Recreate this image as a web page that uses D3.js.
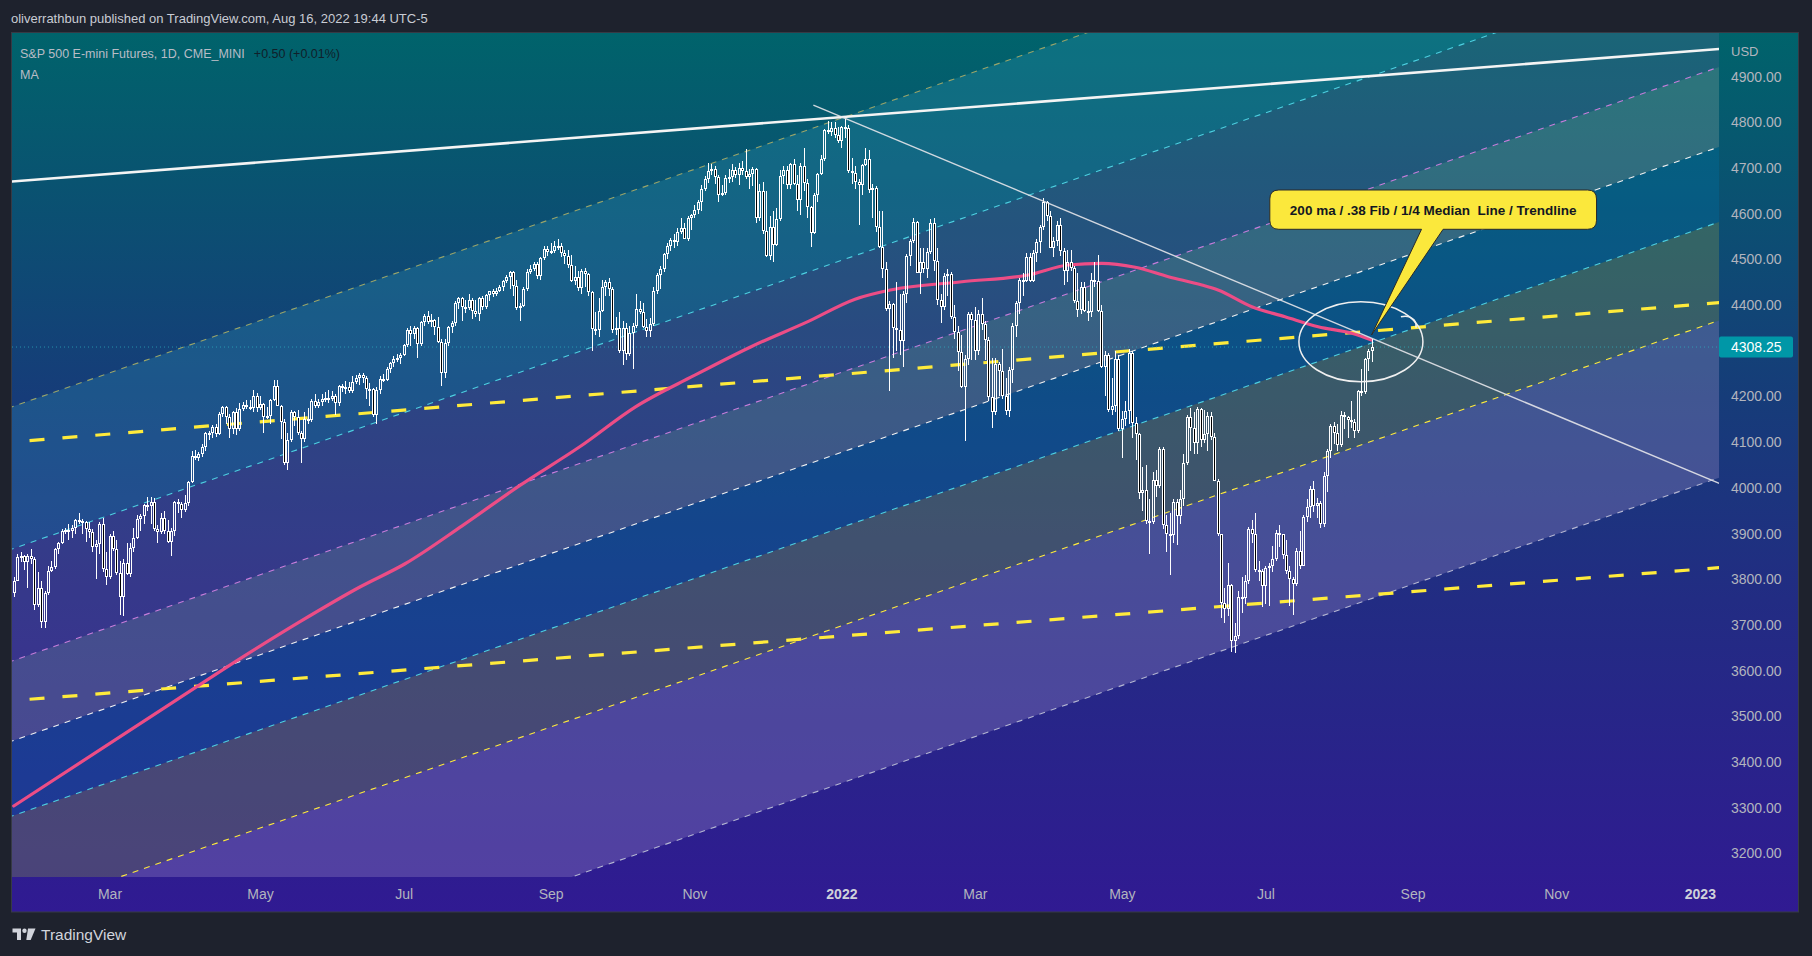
<!DOCTYPE html>
<html><head><meta charset="utf-8">
<script src="https://cdn.jsdelivr.net/npm/d3@7"></script>
<style>
html,body{margin:0;padding:0;background:#1e222d;overflow:hidden;}
svg{display:block;}
text{font-family:"Liberation Sans",Arial,sans-serif;}
</style></head><body>
<svg id="c" width="1812" height="956"></svg>
<script>
// ---------------- DATA ----------------
const firstDay = "2021-01-19";
const lastCalendarDay = "2023-01-31";
const holidays = ["2021-02-15","2021-04-02","2021-05-31","2021-07-05","2021-09-06","2021-11-25","2021-12-24",
  "2022-01-17","2022-02-21","2022-04-15","2022-05-30","2022-06-20","2022-07-04","2022-09-05","2022-11-24","2022-12-26","2023-01-02"];

const opens = [
 3770,3797,3849,3851,3837,3850,3845,3744,3780,
 3707,3770,3818,3827,3866,3880,3906,3907,3906,3912,3930,3928,3926,3910,3903,3870,3878,3921,3822,
 3805,3895,3866,3814,3762,3835,3812,3868,3890,3932,3938,3962,3960,3970,3911,3904,3935,3905,3882,3905,3968,3965,3952,
 3966,4012,4070,4066,4073,4090,4120,4121,4134,4118,4162,4176,4155,4128,4165,4128,4172,4182,4178,4175,4202,
 4174,4183,4156,4158,4192,4224,4180,4144,4055,4105,4166,4155,4120,4108,4150,4148,4190,4180,4188,4194,
 4197,4195,4201,4186,4222,4220,4220,4212,4232,4240,4248,4240,4217,4216,4160,4215,4238,4236,4260,4273,4283,4285,
 4291,4312,4346,4337,4350,4315,4363,4377,4362,4367,4353,4320,4252,4318,4352,4361,4405,4415,4395,4394,4412,
 4388,4380,4416,4395,4422,4430,4425,4430,4440,4453,4462,4473,4442,4394,4399,4435,4473,4480,4490,4463,4503,4522,
 4516,4518,4530,4529,4514,4508,4487,4453,4462,4437,4475,4468,4428,4348,4345,4388,4440,4450,4436,4345,4350,
 4300,4350,4292,4338,4355,4392,4385,4352,4344,4358,4432,4465,4480,4512,4530,4543,4538,4560,4568,4545,4590,
 4598,4608,4625,4655,4675,4693,4697,4680,4642,4645,4678,4680,4696,4684,4700,4694,4680,4688,4698,4590,4650,
 4562,4508,4570,4532,4588,4682,4696,4662,4708,4665,4630,4705,4668,4615,4558,4640,4688,4720,4783,4780,4788,4772,
 4760,4790,4787,4694,4690,4670,4664,4707,4720,4652,4657,4570,4528,4478,4392,4402,4350,4345,4322,4425,
 4508,4540,4582,4470,4494,4478,4516,4580,4497,4412,4395,4464,4468,4375,4342,4298,4220,4282,4380,
 4368,4300,4380,4358,4324,4198,4165,4272,4255,4200,4168,4258,4355,4405,4455,4452,4505,4452,4515,4538,4570,4625,4595,
 4525,4540,4575,4518,4475,4495,4482,4408,4390,4440,4388,4385,4455,4452,4388,4265,4290,4170,4180,4282,
 4128,4150,4168,4295,4142,4118,3988,3995,3928,3925,4018,4005,4085,3918,3898,3897,3970,3938,3975,4055,4155,
 4130,4098,4172,4105,4118,4158,4112,4016,3898,3748,3734,3788,3664,3675,3762,3758,3795,3910,3898,3820,3818,
 3785,3825,3830,3845,3902,3898,3852,3818,3800,3790,3862,3830,3936,3958,3998,3960,3967,3920,4025,4080,
 4135,4120,4093,4160,4155,4148,4145,4125,4212,4210,4282,4300];
const highs = [
 3805,3855,3860,3853,3855,3866,3848,3815,3795,
 3775,3830,3840,3868,3882,3910,3913,3920,3918,3932,3945,3932,3928,3925,3910,3885,3925,3935,3860,
 3900,3905,3885,3840,3845,3880,3880,3912,3940,3942,3965,3980,3980,3978,3918,3945,3950,3930,3912,3972,3975,3968,3985,
 4015,4080,4082,4078,4095,4123,4125,4138,4140,4165,4180,4180,4162,4168,4175,4185,4188,4192,4192,4215,4208,
 4200,4186,4178,4195,4236,4235,4182,4150,4120,4170,4168,4170,4125,4165,4175,4195,4205,4195,4205,4210,
 4215,4212,4205,4226,4228,4233,4232,4245,4246,4252,4252,4245,4230,4218,4220,4245,4250,4265,4276,4288,4292,4295,
 4315,4350,4355,4355,4352,4365,4380,4388,4380,4370,4375,4325,4325,4355,4365,4408,4418,4418,4412,4425,4415,
 4412,4418,4420,4425,4432,4435,4438,4445,4455,4465,4475,4475,4455,4405,4440,4478,4488,4495,4495,4505,4530,4530,
 4535,4540,4545,4535,4520,4520,4510,4485,4475,4480,4482,4470,4430,4385,4415,4455,4455,4460,4440,4375,4385,
 4365,4360,4355,4360,4425,4410,4405,4370,4372,4440,4470,4485,4515,4535,4547,4555,4568,4590,4580,4595,4600,
 4620,4630,4662,4682,4712,4710,4705,4685,4662,4685,4698,4710,4702,4712,4715,4742,4698,4702,4700,4665,4670,
 4650,4595,4605,4612,4695,4705,4705,4712,4720,4685,4712,4745,4675,4618,4645,4690,4728,4786,4802,4800,4800,4790,
 4793,4808,4795,4722,4705,4675,4710,4745,4740,4665,4660,4605,4605,4495,4410,4405,4450,4425,4430,4512,
 4545,4590,4585,4525,4525,4525,4588,4590,4525,4425,4470,4480,4472,4400,4355,4335,4290,4385,4385,
 4395,4390,4415,4365,4330,4285,4285,4275,4305,4240,4265,4360,4408,4460,4470,4515,4515,4520,4545,4575,4635,4628,4605,
 4550,4585,4590,4525,4520,4520,4485,4470,4450,4450,4410,4470,4495,4510,4400,4300,4295,4240,4300,4290,
 4168,4190,4305,4300,4155,4120,4045,4050,3975,4035,4040,4090,4090,3940,3945,3975,3975,3995,4075,4160,4175,
 4165,4178,4175,4170,4165,4165,4120,4020,3900,3780,3835,3790,3705,3775,3805,3810,3915,3930,3945,3840,3822,
 3830,3835,3872,3908,3918,3900,3885,3830,3805,3868,3905,3940,3975,4005,4015,3978,3972,4035,4085,4140,
 4145,4140,4168,4165,4158,4190,4150,4215,4260,4285,4305,4325];
const lows = [
 3762,3795,3838,3820,3780,3834,3733,3740,3694,
 3694,3765,3815,3822,3855,3878,3898,3885,3890,3898,3920,3900,3882,3890,3860,3800,3855,3815,3788,
 3800,3862,3810,3722,3720,3810,3805,3860,3888,3905,3920,3950,3920,3905,3880,3900,3900,3880,3850,3895,3945,3935,3948,
 3960,4010,4060,4058,4068,4080,4105,4110,4112,4115,4155,4140,4110,4118,4115,4125,4168,4172,4170,4165,4166,
 4170,4120,4150,4140,4190,4180,4108,4050,4040,4100,4136,4115,4055,4100,4140,4145,4175,4175,4180,4188,
 4185,4190,4160,4180,4210,4205,4208,4208,4228,4225,4230,4195,4180,4155,4140,4205,4232,4234,4252,4265,4275,4272,
 4288,4308,4310,4325,4285,4310,4355,4358,4352,4335,4318,4222,4240,4310,4340,4355,4392,4365,4382,4390,4370,
 4375,4365,4390,4392,4410,4418,4420,4428,4430,4448,4435,4420,4390,4365,4395,4430,4468,4475,4458,4455,4498,4508,
 4512,4515,4520,4505,4490,4482,4450,4445,4430,4425,4440,4420,4300,4335,4330,4385,4420,4420,4340,4335,4295,
 4270,4280,4288,4260,4350,4380,4350,4330,4330,4355,4425,4435,4472,4502,4518,4525,4530,4555,4545,4540,4565,
 4590,4600,4605,4650,4668,4685,4665,4625,4638,4640,4668,4670,4678,4662,4685,4675,4655,4660,4580,4585,4555,
 4505,4498,4495,4530,4585,4665,4655,4655,4662,4605,4598,4650,4590,4528,4555,4625,4685,4715,4775,4770,4765,4755,
 4745,4765,4690,4665,4655,4575,4640,4705,4645,4590,4560,4525,4460,4388,4212,4285,4300,4290,4265,4405,
 4485,4535,4470,4425,4470,4460,4512,4475,4400,4360,4390,4420,4370,4325,4255,4218,4102,4270,4280,
 4280,4290,4345,4280,4190,4130,4160,4200,4195,4160,4155,4230,4330,4380,4420,4450,4450,4450,4495,4515,4565,4585,4525,
 4505,4530,4508,4445,4450,4475,4405,4375,4380,4385,4365,4375,4440,4385,4262,4200,4165,4160,4165,4125,
 4065,4135,4140,4110,4060,3975,3950,3920,3855,3920,3980,4000,3910,3860,3810,3880,3875,3920,3960,4050,4080,
 4075,4075,4090,4098,4080,4105,4015,3895,3715,3705,3720,3640,3639,3670,3725,3745,3790,3880,3815,3795,3740,
 3745,3742,3815,3840,3870,3845,3812,3742,3722,3785,3822,3828,3925,3935,3948,3935,3912,3915,3990,4065,
 4095,4080,4090,4128,4110,4130,4110,4120,4200,4205,4255,4275];
const closes = [
 3797,3849,3851,3837,3850,3845,3744,3780,3707,
 3770,3818,3827,3866,3880,3906,3907,3906,3912,3930,3928,3926,3910,3903,3870,3878,3921,3822,3805,
 3895,3866,3814,3762,3835,3812,3868,3890,3932,3938,3962,3960,3970,3911,3904,3935,3905,3882,3905,3968,3965,3952,3966,
 4012,4070,4066,4073,4090,4120,4121,4134,4118,4162,4176,4155,4128,4165,4128,4172,4182,4178,4175,4202,4174,
 4183,4156,4158,4192,4224,4180,4144,4055,4105,4166,4155,4120,4108,4150,4148,4190,4180,4188,4194,4197,
 4195,4201,4186,4222,4220,4220,4212,4232,4240,4248,4240,4217,4216,4160,4215,4238,4236,4260,4273,4283,4285,4291,
 4312,4346,4337,4350,4315,4363,4377,4362,4367,4353,4320,4252,4318,4352,4361,4405,4415,4395,4394,4412,4388,
 4380,4416,4395,4422,4430,4425,4430,4440,4453,4462,4473,4442,4394,4399,4435,4473,4480,4490,4463,4503,4522,4516,
 4518,4530,4529,4514,4508,4487,4453,4462,4437,4475,4468,4428,4348,4345,4388,4440,4450,4436,4345,4350,4300,
 4350,4292,4338,4355,4392,4385,4352,4344,4358,4432,4465,4480,4512,4530,4543,4538,4560,4568,4545,4590,4598,
 4608,4625,4655,4675,4693,4697,4680,4642,4645,4678,4680,4696,4684,4700,4694,4680,4688,4698,4590,4650,4562,
 4508,4570,4532,4588,4682,4696,4662,4708,4665,4630,4705,4668,4615,4558,4640,4688,4720,4783,4780,4788,4772,4760,
 4790,4787,4694,4690,4670,4664,4707,4720,4652,4657,4570,4528,4478,4392,4402,4350,4345,4322,4425,4508,
 4540,4582,4470,4494,4478,4516,4580,4497,4412,4395,4464,4468,4375,4342,4298,4220,4282,4380,4368,
 4300,4380,4358,4324,4198,4165,4272,4255,4200,4168,4258,4355,4405,4455,4452,4505,4452,4515,4538,4570,4625,4595,4525,
 4540,4575,4518,4475,4495,4482,4408,4390,4440,4388,4385,4455,4452,4388,4265,4290,4170,4180,4282,4128,
 4150,4168,4295,4142,4118,3988,3995,3928,3925,4018,4005,4085,3918,3898,3897,3970,3938,3975,4055,4155,4130,
 4098,4172,4105,4118,4158,4112,4016,3898,3748,3734,3788,3664,3675,3762,3758,3795,3910,3898,3820,3818,3785,
 3825,3830,3845,3902,3898,3852,3818,3800,3790,3862,3830,3936,3958,3998,3960,3967,3920,4025,4080,4135,
 4120,4093,4160,4155,4148,4145,4125,4212,4210,4282,4300,4308.25];

// 200-day moving average: bar index, value
const maIndex = [0,47.6,67,83.7,101.2,114.3,131.1,148,165.6,181.8,198.7,215.6,232.5,246,256.3,277.2,296.6,308.3,318.1,327.9,337.6,347.4,352.1,362,371.7,381.4,391.2,397];
const maValue = [3303.6,3535.7,3629.8,3707,3782.9,3833.3,3916.9,4005.3,4090.5,4177.4,4245,4309,4365,4413,4433,4451.2,4465.9,4487.8,4491.5,4482.8,4462.2,4444,4433.1,4396.5,4374.6,4352.7,4338.3,4323.6];

// parallel channel levels (price at bar 0 and at bar 490)
const channelNames = ["upper","fibA","fibB","median","fibC","fibD","lower"];
const channelAt0   = [4178.7,3867.4,3622.2,3447.1,3282.9,3067.5,2723.2];
const channelAt490 = [5455.3,5144.0,4898.8,4723.7,4559.5,4344.1,3999.8];
// other drawn lines: [index1, price1, index2, price2]
const topLine     = [0,4670.9,490,4955.6];
const downTrend   = [233.8,4838,498.6,4009.9];
const yellowUpper = [0,4100.6,490,4400.1];
const yellowLower = [0,3534.5,490,3820.2];

const tickMonths = ["2021-03","2021-05","2021-07","2021-09","2021-11","2022-01","2022-03","2022-05","2022-07","2022-09","2022-11","2023-01"];
const tickLabels = ["Mar","May","Jul","Sep","Nov","2022","Mar","May","Jul","Sep","Nov","2023"];
const priceTicks = [3200,3300,3400,3500,3600,3700,3800,3900,4000,4100,4200,4400,4500,4600,4700,4800,4900];
const lastPrice = 4308.25;
const calloutText = "200 ma / .38 Fib / 1/4 Median  Line / Trendline";
const calloutTip = [397, 4334.6];
const circleCenter = [393.9, 4319.9];

// ---------------- CALENDAR ----------------
const hol = new Set(holidays);
const days = [];
for (let d = new Date(firstDay+"T00:00:00Z"); d <= new Date(lastCalendarDay+"T00:00:00Z"); d.setUTCDate(d.getUTCDate()+1)) {
  const wd = d.getUTCDay(); const s = d.toISOString().slice(0,10);
  if (wd !== 0 && wd !== 6 && !hol.has(s)) days.push(s);
}
const tickIdx = tickMonths.map(m => days.findIndex(s => s.startsWith(m)));

// ---------------- LAYOUT ----------------
const plot = {l:12, r:1719, t:33, b:877};
const x = d3.scaleLinear().domain([-0.51, 498.6]).range([plot.l, plot.r]);
const y = d3.scaleLinear().domain([3148.1, 4995.7]).range([plot.b, plot.t]);
const FONT = '"Liberation Sans",Arial,sans-serif';

const svg = d3.select("#c");
const defs = svg.append("defs");
const grad = defs.append("linearGradient").attr("id","bg").attr("gradientUnits","userSpaceOnUse")
  .attr("x1",0).attr("y1",33).attr("x2",0).attr("y2",912);
[[0,"#00636b"],[0.414,"#163c79"],[0.645,"#222c83"],[1,"#301a92"]].forEach(s=>grad.append("stop").attr("offset",s[0]).attr("stop-color",s[1]));
defs.append("clipPath").attr("id","clip").append("rect")
  .attr("x",plot.l).attr("y",plot.t).attr("width",plot.r-plot.l).attr("height",plot.b-plot.t);

svg.append("rect").attr("width",1812).attr("height",956).attr("fill","#1e222d");
svg.append("rect").attr("x",11.5).attr("y",32.5).attr("width",1787).attr("height",879.5)
  .attr("fill","url(#bg)").attr("stroke","#363a45").attr("stroke-width",1);

const g = svg.append("g").attr("clip-path","url(#clip)");

// channel fills
const chanP = (k,i) => channelAt0[k] + (channelAt490[k]-channelAt0[k])*(i/490);
const bandFills = ["rgba(50,160,190,0.25)","rgba(150,110,175,0.18)","rgba(165,180,170,0.26)","rgba(0,115,170,0.30)","rgba(135,150,75,0.33)","rgba(165,150,205,0.30)"];
const i0 = -5, i1 = 505;
for (let k=0;k<channelNames.length-1;k++){
  const pts = [[i0,chanP(k,i0)],[i1,chanP(k,i1)],[i1,chanP(k+1,i1)],[i0,chanP(k+1,i0)]];
  g.append("path").attr("d","M"+pts.map(p=>x(p[0])+","+y(p[1])).join("L")+"Z").attr("fill",bandFills[k]);
}
// channel lines
const chanColors = ["#9aa56a","#4dd0e1","#c77ddb","#f2f2f2","#4dd0e1","#ffeb3b","#b4b6d2"];
channelNames.forEach((n,k)=>{
  g.append("line").attr("x1",x(i0)).attr("y1",y(chanP(k,i0))).attr("x2",x(i1)).attr("y2",y(chanP(k,i1)))
   .attr("stroke",chanColors[k]).attr("stroke-width",1.1).attr("stroke-dasharray","6,6");
});
// thick yellow dashed lines
function seg(a){ return {x1:x(a[0]),y1:y(a[1]),x2:x(a[2]),y2:y(a[3])}; }
function extend(a, ia, ib){ const s=(a[3]-a[1])/(a[2]-a[0]); return [ia, a[1]+s*(ia-a[0]), ib, a[1]+s*(ib-a[0])]; }
[yellowUpper,yellowLower].forEach(a=>{
  const s=seg(extend(a,i0,i1));
  g.append("line").attr("x1",s.x1).attr("y1",s.y1).attr("x2",s.x2).attr("y2",s.y2)
   .attr("stroke","#ffeb3b").attr("stroke-width",3.2).attr("stroke-dasharray","15,18");
});
// last price dotted line
g.append("line").attr("x1",plot.l).attr("x2",plot.r).attr("y1",y(lastPrice)).attr("y2",y(lastPrice))
  .attr("stroke","#2fb5c0").attr("stroke-opacity",0.7).attr("stroke-width",1).attr("stroke-dasharray","1,3");

// moving average
g.append("path").datum(maIndex.map((d,i)=>[d,maValue[i]]))
  .attr("d", d3.line().x(d=>x(d[0])).y(d=>y(d[1])).curve(d3.curveMonotoneX))
  .attr("fill","none").attr("stroke","#ec4d86").attr("stroke-width",3.2).attr("stroke-linecap","round");

// candles
const gc = g.append("g");
closes.forEach((c,i)=>{
  const o=opens[i], h=highs[i], l=lows[i];
  const px = Math.round(x(i));
  const yt = Math.round(y(Math.max(o,c)));
  const yb = Math.max(Math.round(y(Math.min(o,c))), yt+2);
  const yh = Math.round(y(h)), yl = Math.round(y(l));
  if (yh < yt) gc.append("rect").attr("x",px).attr("y",yh).attr("width",1).attr("height",yt-yh).attr("fill","#fff");
  if (yl > yb) gc.append("rect").attr("x",px).attr("y",yb).attr("width",1).attr("height",yl-yb).attr("fill","#fff");
  const hgt = yb-yt;
  if (c >= o) {
    let d = `M${px-1},${yt}h3v${hgt}h-3Z`;
    if (hgt > 2) d += `M${px},${yt+1}h1v${hgt-2}h-1Z`;
    gc.append("path").attr("d",d).attr("fill","#fff").attr("fill-rule","evenodd");
  } else {
    gc.append("rect").attr("x",px-1).attr("y",yt).attr("width",3).attr("height",hgt).attr("fill","#fff");
    if (hgt > 2) gc.append("rect").attr("x",px).attr("y",yt+1).attr("width",1).attr("height",hgt-2).attr("fill","#000");
  }
});

// white trend lines
{ const s=seg(extend(topLine,i0,i1));
  g.append("line").attr("x1",s.x1).attr("y1",s.y1).attr("x2",s.x2).attr("y2",s.y2).attr("stroke","#f4f4f4").attr("stroke-width",2.6); }
{ const s=seg(extend(downTrend,downTrend[0],i1));
  g.append("line").attr("x1",s.x1).attr("y1",s.y1).attr("x2",s.x2).attr("y2",s.y2).attr("stroke","#e6e6ea").attr("stroke-opacity",0.9).attr("stroke-width",1.4); }

// hand-drawn ellipse
{ const cx=x(circleCenter[0]), cy=y(circleCenter[1]);
  g.append("ellipse").attr("cx",cx).attr("cy",cy).attr("rx",62).attr("ry",40)
   .attr("fill","none").attr("stroke","#f0f0f0").attr("stroke-width",1.5);
  g.append("path").attr("d",`M${cx+40},${cy-25}q8,-2 13,3q3,4 2,8`).attr("fill","none").attr("stroke","#f0f0f0").attr("stroke-width",1.5);
}

// callout
{ const tx=x(calloutTip[0]), ty=y(calloutTip[1]);
  const L=tx-101.7, R=tx+225, T=ty-145, B=ty-105.7, r=9, b1=tx+50, b2=tx+71.6;
  const d=`M${L+r},${T}H${R-r}Q${R},${T} ${R},${T+r}V${B-r}Q${R},${B} ${R-r},${B}H${b2}L${tx},${ty}L${b1},${B}H${L+r}Q${L},${B} ${L},${B-r}V${T+r}Q${L},${T} ${L+r},${T}Z`;
  svg.append("path").attr("d",d).attr("fill","#fbe83c").attr("stroke","#2a2a2a").attr("stroke-width",1);
  svg.append("text").attr("x",(L+R)/2).attr("y",T+25).attr("text-anchor","middle")
   .attr("fill","#131722").attr("font-size","13.5px").attr("font-weight","bold").style("white-space","pre")
   .attr("xml:space","preserve").text(calloutText);
}

// ---------------- AXES ----------------
const gx = svg.append("g").attr("transform",`translate(0,${plot.b})`)
  .call(d3.axisBottom(x).tickValues(tickIdx).tickFormat((d,i)=>tickLabels[i]).tickSize(0).tickPadding(0));
gx.select(".domain").remove();
gx.selectAll("text").attr("y",22).attr("dy",0).attr("fill",(d,i)=>tickLabels[i].length===4?"#cfd2da":"#b2b5be")
  .attr("font-size","14px").attr("font-family",FONT).attr("font-weight",(d,i)=>tickLabels[i].length===4?"bold":"normal");

const gy = svg.append("g").attr("transform",`translate(${plot.r},0)`)
  .call(d3.axisRight(y).tickValues(priceTicks).tickFormat(d=>d.toFixed(2)).tickSize(0).tickPadding(12));
gy.select(".domain").remove();
gy.selectAll("text").attr("fill","#b2b5be").attr("font-size","14px").attr("font-family",FONT);
svg.append("text").attr("x",plot.r+12).attr("y",51).attr("dy","0.35em").attr("fill","#b2b5be").attr("font-size","13px").text("USD");

// last price label
svg.append("rect").attr("x",plot.r).attr("y",y(lastPrice)-10.5).attr("width",74).attr("height",21).attr("rx",2).attr("fill","#0097a7");
svg.append("text").attr("x",plot.r+12).attr("y",y(lastPrice)).attr("dy","0.35em").attr("fill","#ffffff").attr("font-size","14px").text(lastPrice.toFixed(2));

// ---------------- TEXTS ----------------
svg.append("text").attr("x",11).attr("y",23).attr("fill","#c9ccd4").attr("font-size","13px")
  .text("oliverrathbun published on TradingView.com, Aug 16, 2022 19:44 UTC-5");
const lg = svg.append("text").attr("x",20).attr("y",58).attr("font-size","12.5px");
lg.append("tspan").attr("fill","#b8bcc6").text("S&P 500 E-mini Futures, 1D, CME_MINI");
lg.append("tspan").attr("fill","#10202a").attr("dx",9).text("+0.50 (+0.01%)");
svg.append("text").attr("x",20).attr("y",79).attr("fill","#b8bcc6").attr("font-size","12.5px").text("MA");

// footer logo
const lgG = svg.append("g").attr("fill","#d1d4dc");
lgG.append("path").attr("d","M12.5,928.5h8.5v11.5h-4v-7.5h-4.5Z");
lgG.append("circle").attr("cx",24.5).attr("cy",930.8).attr("r",2.2);
lgG.append("path").attr("d","M28,928.5h7.5l-4.8,11.5h-4.4Z");
svg.append("text").attr("x",41).attr("y",940).attr("fill","#d1d4dc").attr("font-size","15.5px").text("TradingView");
</script>
</body></html>
